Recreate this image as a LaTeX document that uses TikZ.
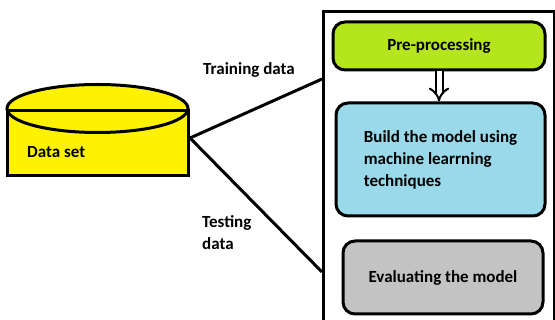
\documentclass[tikz,border=0pt]{standalone}
\usepackage{fontspec}
\setmainfont{Carlito}
\usetikzlibrary{arrows.meta,positioning}
\definecolor{dsyellow}{HTML}{FFF200}
\definecolor{prepgreen}{HTML}{B5E61D}
\definecolor{buildblue}{HTML}{99D9EA}
\definecolor{evalgray}{HTML}{C3C3C3}
\tikzset{
  bigfont/.style={font=\bfseries\fontsize{17}{22}\selectfont},
  stagebox/.style={draw, line width=3pt, rounded corners=12pt,
                   align=left, inner sep=0pt, bigfont},
  tag/.style={bigfont, align=left, anchor=west, inner sep=0pt},
  link/.style={line width=3pt},
  hollow/.style={line width=2pt, double distance=5pt,
                 -{Implies[length=7pt, width=14pt]}},
}

\begin{document}
\begin{tikzpicture}[x=1pt, y=-1pt]
\useasboundingbox (0,0) rectangle (555,320);
\clip (0,0) rectangle (555,320);

% ---- data set (flat-bottom drum) -----------------------------------
\node[draw, line width=3pt, fill=dsyellow, minimum width=181pt,
      minimum height=64pt, inner sep=0pt] (dataset) at (97.5,144) {};
\draw[line width=3pt, fill=dsyellow] (97.5,108.5) ellipse [x radius=90.5, y radius=24];
\draw[line width=3pt] (dataset.north west) -- (dataset.north east);
\node[tag] (dslabel) at (27,152) {Data set};
\coordinate (split) at (190,138);

% ---- pipeline frame --------------------------------------------------
\node[draw, line width=3pt, anchor=north west, minimum width=231pt,
      minimum height=340pt, inner sep=0pt] (pipeline) at (322,10) {};
\coordinate (trainin) at (322,79);
\coordinate (testin)  at (322,272);

% ---- stages ----------------------------------------------------------
\node[stagebox, fill=prepgreen, minimum width=212pt, minimum height=48pt,
      align=center] (prep) at (439,46) {Pre-processing};
\node[stagebox, fill=buildblue, minimum width=209pt, minimum height=113pt,
      below=30pt of prep, xshift=1.5pt] (build)
     {Build the model using\\ machine learrning\\ techniques};
\node[stagebox, fill=evalgray, minimum width=200pt, minimum height=73pt,
      align=center, below=22pt of build, xshift=2.5pt] (evalm)
     {Evaluating the model};

\draw[hollow] (prep.south) -- (prep.south |- build.north);

% ---- split into training / testing ---------------------------------
\draw[link] (split) -- (trainin);
\draw[link] (split) -- (testin);
\node[tag] (trainlbl) at (203,70) {Training data};
\node[tag] (testlbl) at (202,233) {Testing\\ data};
\end{tikzpicture}
\end{document}
